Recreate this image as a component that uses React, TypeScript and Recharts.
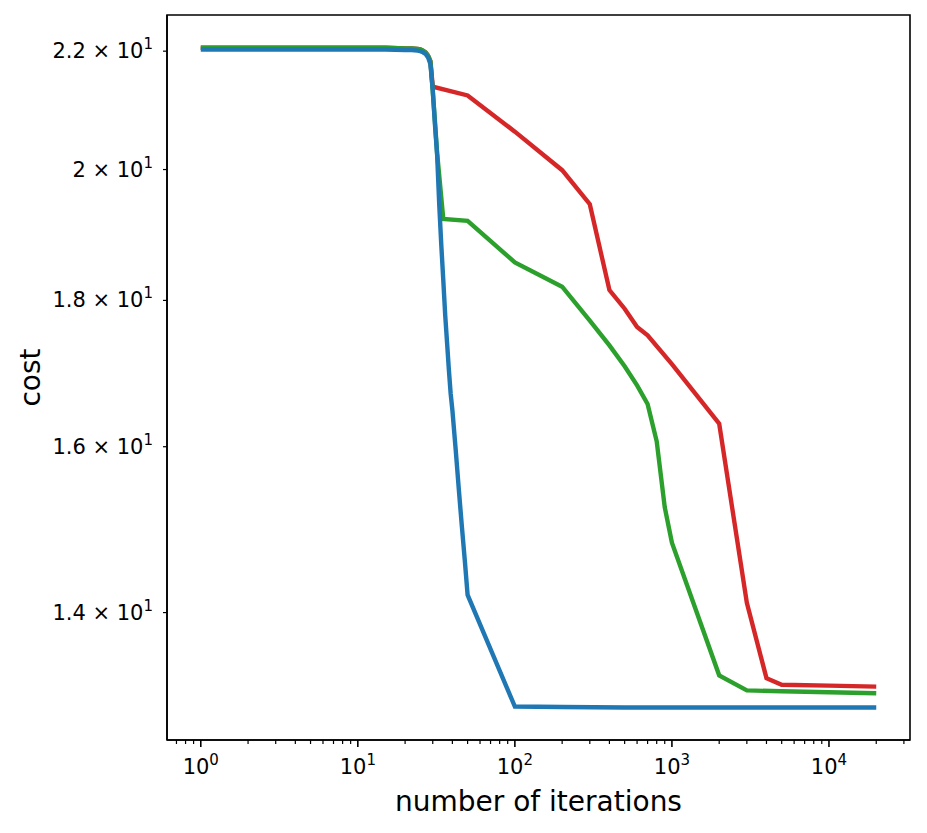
import { LineChart, Line, XAxis, YAxis, Label, ReferenceArea } from 'recharts';

// cost per iteration for the three runs
const redIters = [1, 2, 5, 10, 15, 20, 22, 24, 25, 26, 27, 28, 29, 30, 50, 100, 200, 300, 400, 500, 600, 700, 1000, 2000, 3000, 4000, 5000, 10000, 20000];
const redCost = [22.06, 22.06, 22.06, 22.06, 22.06, 22.05, 22.05, 22.04, 22.03, 22.01, 21.98, 21.92, 21.82, 21.38, 21.23, 20.62, 19.99, 19.45, 18.15, 17.88, 17.62, 17.5, 17.1, 16.3, 14.11, 13.28, 13.21, 13.2, 13.19];

const greenIters = [1, 2, 5, 10, 15, 20, 22, 24, 25, 26, 27, 28, 29, 30, 31, 32, 35, 50, 100, 200, 300, 400, 500, 600, 700, 800, 900, 1000, 2000, 3000, 5000, 10000, 20000];
const greenCost = [22.06, 22.06, 22.06, 22.06, 22.06, 22.05, 22.05, 22.04, 22.03, 22.01, 21.98, 21.92, 21.82, 21.3, 20.78, 20.26, 19.22, 19.19, 18.56, 18.2, 17.71, 17.36, 17.07, 16.81, 16.56, 16.07, 15.24, 14.81, 13.31, 13.15, 13.14, 13.13, 13.12];

const blueIters = [1, 2, 5, 10, 15, 20, 22, 24, 25, 26, 27, 28, 29, 30, 31, 32, 33, 34, 35, 36, 37, 38, 39, 40, 42, 44, 46, 48, 50, 100, 200, 500, 1000, 2000, 5000, 10000, 20000];
const blueCost = [22.03, 22.03, 22.03, 22.03, 22.03, 22.02, 22.02, 22.01, 22.0, 21.98, 21.95, 21.89, 21.77, 21.32, 20.73, 20.23, 19.44, 18.82, 18.3, 17.79, 17.4, 17.02, 16.7, 16.48, 15.96, 15.45, 15.0, 14.6, 14.2, 12.98, 12.975, 12.97, 12.97, 12.97, 12.97, 12.97, 12.97];

const xMajorTicks = [1, 10, 100, 1000, 10000];
const xMajorExp = ['0', '1', '2', '3', '4'];
const xMinorTicks = [
  0.7, 0.8, 0.9,
  2, 3, 4, 5, 6, 7, 8, 9,
  20, 30, 40, 50, 60, 70, 80, 90,
  200, 300, 400, 500, 600, 700, 800, 900,
  2000, 3000, 4000, 5000, 6000, 7000, 8000, 9000,
  20000, 30000,
];
const yTicks = [14, 16, 18, 20, 22];
const yTickMantissa = ['1.4', '1.6', '1.8', '2', '2.2'];

const X_DOMAIN = [0.6094, 32810];
const Y_DOMAIN = [12.635, 22.65];

const FONT = '"DejaVu Sans", sans-serif';

const toPoints = (xs: number[], ys: number[]) => xs.map((x, i) => ({ x, y: ys[i] }));

const redData = toPoints(redIters, redCost);
const greenData = toPoints(greenIters, greenCost);
const blueData = toPoints(blueIters, blueCost);

const XTick = (props: any) => {
  const { x, y, payload } = props;
  const idx = xMajorTicks.indexOf(payload.value);
  const major = idx >= 0;
  return (
    <g>
      <line x1={x} x2={x} y1={y} y2={y + (major ? 7 : 4)} stroke="#000" strokeWidth={major ? 1.6 : 1.2} />
      {major && (
        <text x={x} y={y + 34} textAnchor="middle" fontSize={21} fontFamily={FONT} fill="#000">
          10<tspan dy={-9} fontSize={15}>{xMajorExp[idx]}</tspan>
        </text>
      )}
    </g>
  );
};

const YTick = (props: any) => {
  const { x, y, payload } = props;
  const idx = yTicks.indexOf(payload.value);
  return (
    <g>
      <line x1={x - 4} x2={x} y1={y} y2={y} stroke="#000" strokeWidth={1.2} />
      <text x={x - 14} y={y + 7} textAnchor="end" fontSize={21} fontFamily={FONT} fill="#000">
        {yTickMantissa[idx]} × 10<tspan dy={-9} fontSize={15}>1</tspan>
      </text>
    </g>
  );
};

export default function App() {
  return (
    <LineChart width={911} height={817} margin={{ top: 7, right: 9, bottom: 0, left: 0 }}>
      <XAxis
        dataKey="x"
        type="number"
        scale="log"
        domain={X_DOMAIN}
        allowDataOverflow
        ticks={[...xMajorTicks, ...xMinorTicks]}
        interval={0}
        tick={<XTick />}
        tickLine={false}
        tickSize={0}
        tickMargin={0}
        height={85}
        axisLine={{ stroke: '#000', strokeWidth: 1.6 }}
      >
        <Label
          content={(p: any) => (
            <text
              x={p.viewBox.x + p.viewBox.width / 2}
              y={p.viewBox.y + 71}
              textAnchor="middle"
              fontSize={28}
              fontFamily={FONT}
              fill="#000"
            >
              number of iterations
            </text>
          )}
        />
      </XAxis>
      <YAxis
        type="number"
        scale="log"
        domain={Y_DOMAIN}
        allowDataOverflow
        ticks={yTicks}
        interval={0}
        tick={<YTick />}
        tickLine={false}
        tickSize={0}
        tickMargin={0}
        width={159}
        axisLine={{ stroke: '#000', strokeWidth: 1.6 }}
      >
        <Label
          content={(p: any) => {
            const cx = 32;
            const cy = p.viewBox.y + p.viewBox.height / 2;
            return (
              <text
                x={cx}
                y={cy}
                transform={`rotate(-90 ${cx} ${cy})`}
                textAnchor="middle"
                fontSize={28}
                fontFamily={FONT}
                fill="#000"
              >
                cost
              </text>
            );
          }}
        />
      </YAxis>
      {/* frame around the plot area, like the matplotlib spines */}
      <ReferenceArea
        x1={X_DOMAIN[0]}
        x2={X_DOMAIN[1]}
        y1={Y_DOMAIN[0]}
        y2={Y_DOMAIN[1]}
        ifOverflow="visible"
        fill="none"
        fillOpacity={0}
        stroke="#000"
        strokeWidth={1.6}
        strokeOpacity={1}
      />
      <Line data={redData} dataKey="y" stroke="#d62728" strokeWidth={4.4} dot={false} type="linear" isAnimationActive={false} />
      <Line data={greenData} dataKey="y" stroke="#2ca02c" strokeWidth={4.4} dot={false} type="linear" isAnimationActive={false} />
      <Line data={blueData} dataKey="y" stroke="#1f77b4" strokeWidth={4.4} dot={false} type="linear" isAnimationActive={false} />
    </LineChart>
  );
}
